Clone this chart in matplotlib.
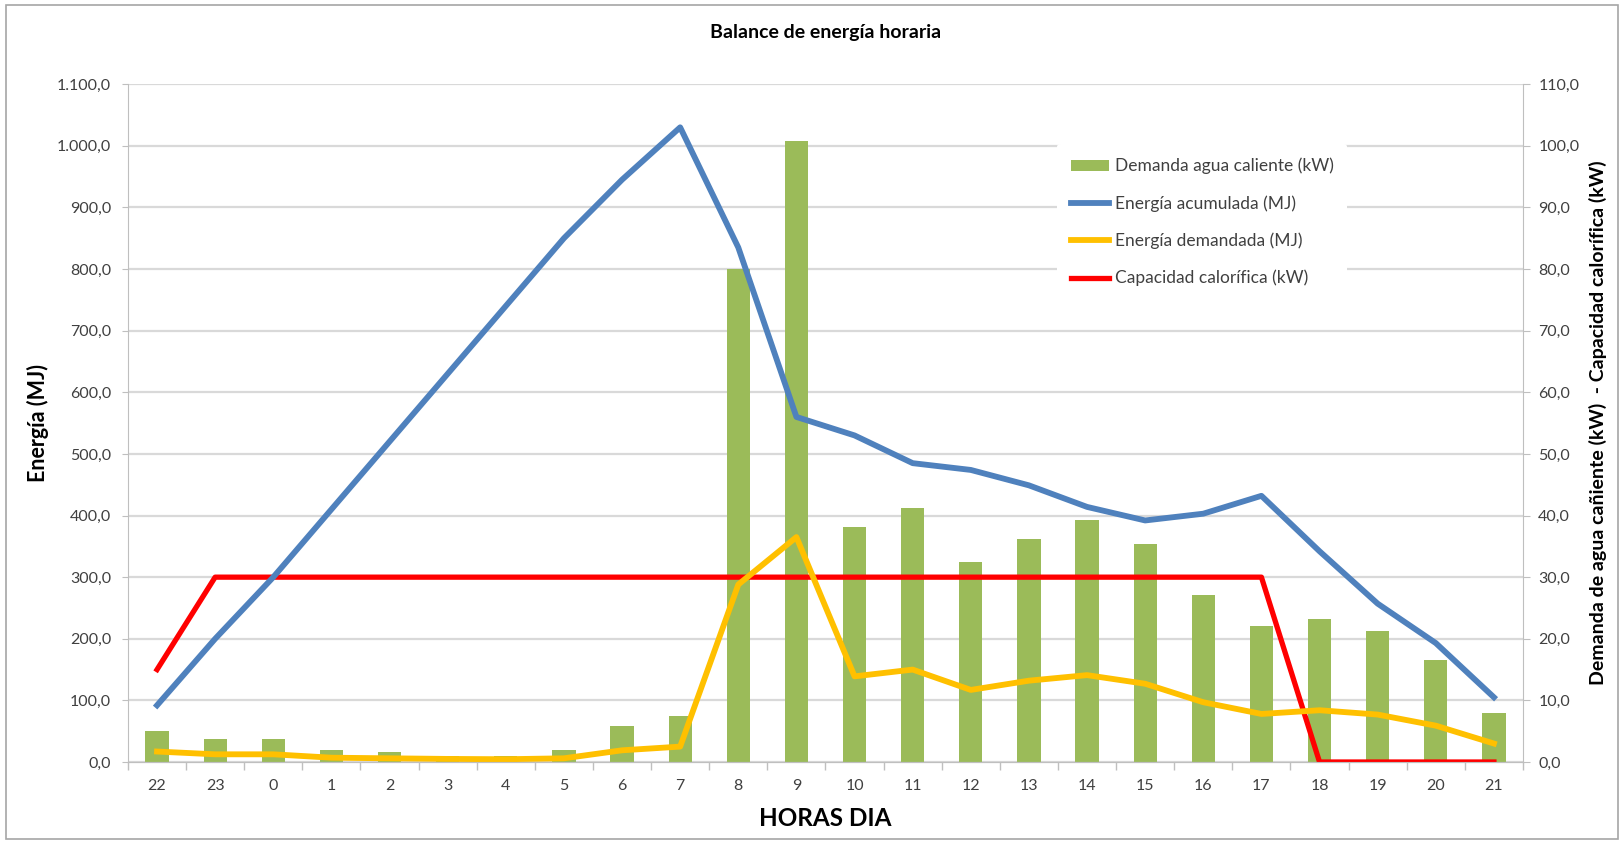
import numpy as np
import matplotlib.pyplot as plt
from matplotlib.patches import Rectangle
from matplotlib.ticker import FuncFormatter, FixedLocator

plt.rcParams['font.family'] = ['Lato', 'DejaVu Sans']

# horas del día (de 22 h a 21 h)
horas = ['22', '23', '0', '1', '2', '3', '4', '5', '6', '7', '8', '9',
         '10', '11', '12', '13', '14', '15', '16', '17', '18', '19', '20', '21']

# demanda de agua caliente (kW) -> eje derecho
demanda_agua = [5.0, 3.7, 3.7, 2.0, 1.6, 1.0, 1.0, 2.0, 5.8, 7.5, 80.0, 100.8,
                38.2, 41.2, 32.4, 36.2, 39.2, 35.4, 27.1, 22.1, 23.2, 21.2, 16.6, 7.9]

# energía acumulada (MJ) -> eje izquierdo
energia_acum = [92, 200, 300, 410, 520, 630, 740, 850, 945, 1030, 835, 560,
                530, 485, 474, 449, 414, 392, 403, 432, 342, 257, 193, 105]

# energía demandada (MJ) -> eje izquierdo
energia_dem = [17, 12.5, 12.5, 7, 6, 5, 4.5, 6, 19, 25, 288, 365,
               139, 150, 117, 132, 141, 127, 97, 78, 84, 77, 59, 30]

# capacidad calorífica (kW) -> eje derecho
capacidad = [15, 30, 30, 30, 30, 30, 30, 30, 30, 30, 30, 30,
             30, 30, 30, 30, 30, 30, 30, 30, 0, 0, 0, 0]

x = np.arange(len(horas))


def coma(v, pos, miles=False):
    s = f"{v:,.1f}" if miles else f"{v:.1f}"
    return s.replace(',', 'X').replace('.', ',').replace('X', '.')


fig = plt.figure(figsize=(16.24, 8.42), dpi=100)
ax = fig.add_axes([0.0788, 0.095, 0.859, 0.805])
ax2 = ax.twinx()

# barras y líneas en kW detrás, líneas en MJ delante
ax2.set_zorder(ax.get_zorder() - 1)
ax.patch.set_visible(False)

axis_col = '#BFBFBF'
ax2.set_axisbelow(True)
ax2.yaxis.grid(True, color='#D9D9D9', linewidth=1.6)

barras = ax2.bar(x, demanda_agua, width=0.4, color='#9BBB59', zorder=2,
                 label='Demanda agua caliente (kW)')
l_cap, = ax2.plot(x, capacidad, color='#FF0000', linewidth=3.8, zorder=3,
                  solid_joinstyle='round', label='Capacidad calorífica (kW)')

l_acum, = ax.plot(x, energia_acum, color='#4F81BD', linewidth=4.2,
                  solid_joinstyle='round', label='Energía acumulada (MJ)')
l_dem, = ax.plot(x, energia_dem, color='#FFC000', linewidth=4.2,
                 solid_joinstyle='round', label='Energía demandada (MJ)')

ax.set_xlim(-0.5, len(horas) - 0.5)
ax.set_ylim(0, 1100)
ax2.set_ylim(0, 110)
ax.set_yticks(np.arange(0, 1101, 100))
ax2.set_yticks(np.arange(0, 111, 10))
ax.yaxis.set_major_formatter(FuncFormatter(lambda v, p: coma(v, p, miles=True)))
ax2.yaxis.set_major_formatter(FuncFormatter(coma))

ax.set_xticks(x)
ax.set_xticklabels(horas)
ax.xaxis.set_minor_locator(FixedLocator(np.arange(-0.5, len(horas), 1.0)))
ax.tick_params(axis='x', which='major', length=0, pad=12, labelsize=11.5, labelcolor='#404040')
ax.tick_params(axis='x', which='minor', length=6, color=axis_col, width=1)
ax.tick_params(axis='y', length=4, color=axis_col, pad=8, labelsize=11.5, labelcolor='#404040')
ax2.tick_params(axis='y', length=5, color=axis_col, pad=6, labelsize=11.5, labelcolor='#404040')

for a in (ax, ax2):
    for side in ('top', 'left', 'right'):
        a.spines[side].set_visible(False)
    a.spines['bottom'].set_color(axis_col)
ax.spines['left'].set_visible(True)
ax.spines['left'].set_color(axis_col)
ax2.spines['right'].set_visible(True)
ax2.spines['right'].set_color(axis_col)

ax.set_title('Balance de energía horaria', fontsize=14, fontweight='bold', pad=33)
ax.set_xlabel('HORAS DIA', fontsize=17.5, fontweight='bold', labelpad=10)
ax.set_ylabel('Energía (MJ)', fontsize=15.5, fontweight='bold', labelpad=6)
ax2.set_ylabel('Demanda de agua cañiente (kW)  - Capacidad calorífica (kW)',
               fontsize=14, fontweight='bold', labelpad=7)

leg = ax.legend([barras, l_acum, l_dem, l_cap],
                [barras.get_label(), l_acum.get_label(), l_dem.get_label(), l_cap.get_label()],
                loc='upper left', bbox_to_anchor=(0.66, 0.925), fontsize=12.5,
                frameon=True, facecolor='white', edgecolor='none', framealpha=1,
                handlelength=2.2, handleheight=0.6, handletextpad=0.3,
                labelspacing=1.2, borderpad=0.8)
for t in leg.get_texts():
    t.set_color('#404040')

# marco gris alrededor de la figura
fig.patches.append(Rectangle((0.004, 0.004), 0.992, 0.99, transform=fig.transFigure,
                             fill=False, edgecolor='#A6A6A6', linewidth=1.2))

fig.savefig('out.png', dpi=100)
